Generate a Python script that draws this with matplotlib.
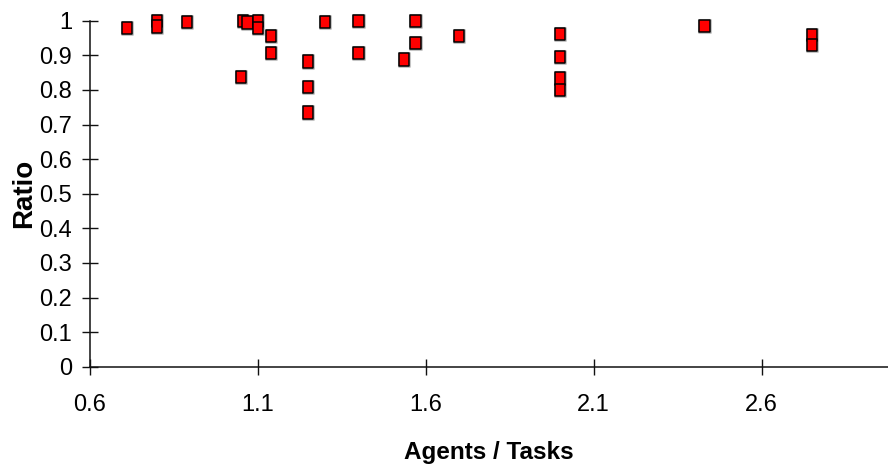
import matplotlib
matplotlib.use("Agg")
import matplotlib.pyplot as plt
from matplotlib.path import Path
from matplotlib import font_manager
import matplotlib.patheffects as pe

# data
agents_per_task = [0.71, 0.80, 0.80, 0.89, 1.05, 1.057, 1.07, 1.10, 1.10,
                   1.14, 1.14, 1.25, 1.25, 1.25, 1.30, 1.40, 1.40, 1.535,
                   1.57, 1.57, 1.70, 2.00, 2.00, 2.00, 2.00, 2.43, 2.75, 2.75]
ratio = [0.979, 1.0, 0.983, 0.997, 0.838, 1.0, 0.995, 1.0, 0.979,
         0.956, 0.906, 0.882, 0.809, 0.735, 0.997, 1.0, 0.906, 0.888,
         1.0, 0.936, 0.956, 0.961, 0.894, 0.833, 0.800, 0.985, 0.959, 0.930]

x_ticks = [0.6, 1.1, 1.6, 2.1, 2.6]
y_ticks = [0, 0.1, 0.2, 0.3, 0.4, 0.5, 0.6, 0.7, 0.8, 0.9, 1]

plt.rcParams['font.family'] = ['Liberation Sans', 'DejaVu Sans']

# the reference tick labels are a condensed face; use one if it is there
installed = {f.name for f in font_manager.fontManager.ttflist}
if 'Liberation Sans Narrow' in installed:
    tick_family, tick_size = ['Liberation Sans Narrow', 'DejaVu Sans'], 18
else:
    tick_family, tick_size = ['Liberation Sans', 'DejaVu Sans'], 17

W, H = 888, 470
fig = plt.figure(figsize=(W / 100, H / 100), dpi=100)
left, right, top, bottom = 89.7, 888, 20.7, 366.7
ax = fig.add_axes([left / W, (H - bottom) / H, (right - left) / W, (bottom - top) / H])

# slightly tall rectangle marker like the old spreadsheet output
rect = Path([(-0.42, -0.5), (0.42, -0.5), (0.42, 0.5), (-0.42, 0.5), (-0.42, -0.5)],
            [Path.MOVETO, Path.LINETO, Path.LINETO, Path.LINETO, Path.CLOSEPOLY])

ax.plot(agents_per_task, ratio, linestyle='none', marker=rect, markersize=8.8,
        markerfacecolor='#ff0000', markeredgecolor='black', markeredgewidth=1.1,
        clip_on=False, zorder=3,
        path_effects=[pe.Stroke(linewidth=2.2, foreground='#c4c4c4'), pe.Normal()])

ax.set_xlim(0.6, 0.6 + (right - left) / 336.0)
ax.set_ylim(0, 1)
ax.set_xticks(x_ticks)
ax.set_xticklabels([str(v) for v in x_ticks], family=tick_family, fontsize=tick_size)
ax.set_yticks(y_ticks)
ax.set_yticklabels([('%g' % v) for v in y_ticks], family=tick_family, fontsize=tick_size)

for s in ['top', 'right']:
    ax.spines[s].set_visible(False)
for s in ['left', 'bottom']:
    ax.spines[s].set_linewidth(1.1)
    ax.spines[s].set_color('#111111')

ax.tick_params(axis='both', direction='inout', length=11, width=1.0, color='#111111')
ax.tick_params(axis='x', pad=14.5)
ax.tick_params(axis='y', pad=7)

ax.set_xlabel('Agents / Tasks', fontsize=17.5, fontweight='bold')
ax.set_ylabel('Ratio', fontsize=20, fontweight='bold')
ax.xaxis.label.set_va('center')
ax.yaxis.label.set_va('center')
ax.xaxis.set_label_coords(0.5, (bottom - 452) / (bottom - top))
ax.yaxis.set_label_coords((24 - left) / (right - left), 0.5)

fig.savefig('out.png', dpi=100)
